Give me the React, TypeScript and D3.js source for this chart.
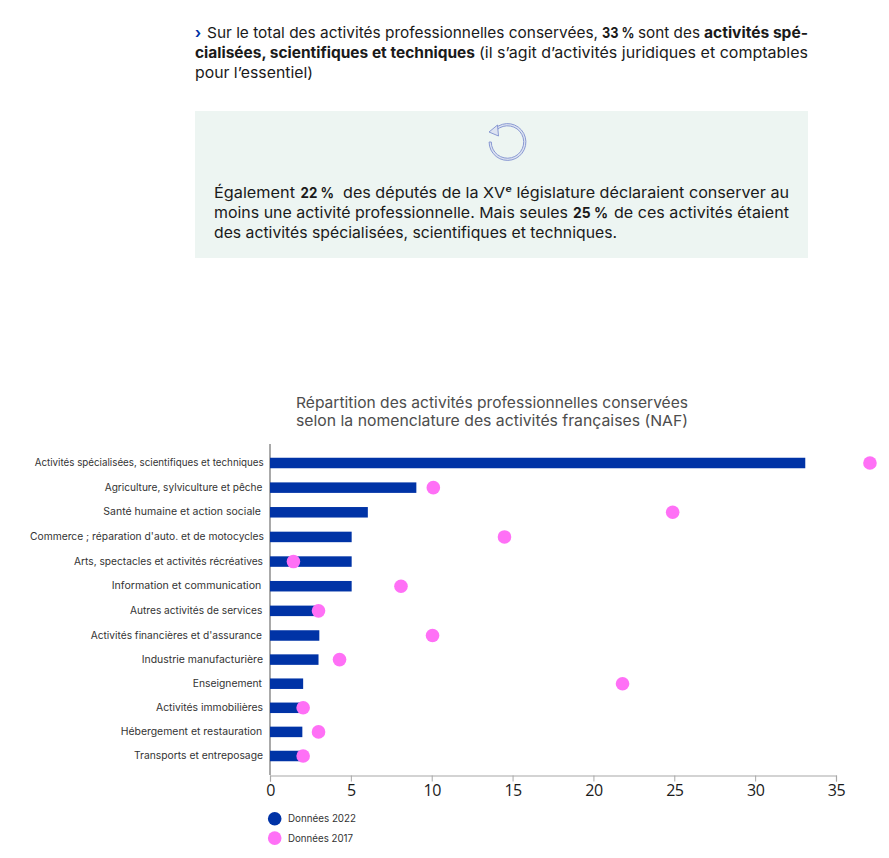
import * as d3 from "d3";
import {useEffect, useRef} from "react";

const categories = [
    "Activités spécialisées, scientifiques et techniques",
    "Agriculture, sylviculture et pêche",
    "Santé humaine et action sociale",
    "Commerce ; réparation d'auto. et de motocycles",
    "Arts, spectacles et activités récréatives",
    "Information et communication",
    "Autres activités de services",
    "Activités financières et d'assurance",
    "Industrie manufacturière",
    "Enseignement",
    "Activités immobilières",
    "Hébergement et restauration",
    "Transports et entreposage",
];
const values2022 = [33.1, 9.05, 6.05, 5.05, 5.05, 5.05, 3, 3.05, 3, 2.05, 2, 2, 2];
const values2017 = [37.1, 10.1, 24.9, 14.5, 1.45, 8.1, 3, 10.05, 4.3, 21.8, 2.05, 3, 2.05];
const xTicks = [0, 5, 10, 15, 20, 25, 30, 35];
const legendLabels = ["Données 2022", "Données 2017"];
const titleLines = [
    "Répartition des activités professionnelles conservées",
    "selon la nomenclature des activités françaises (NAF)",
];

// bords gauche/droit des libellés, la police d'origine n'est pas dispo
const labelLeft = [34.7, 104.7, 103.3, 30, 74, 111.7, 130, 90.7, 141.7, 192.7, 156, 120.7, 134];
const labelRight = [263.7, 262.5, 261, 264, 263, 261.3, 262.3, 262, 263, 262, 263, 262.3, 263];
const legendRight = [356, 353];

// [texte, gras, x début, x fin]
type Seg = [string, boolean, number, number];
const introLines: Seg[][] = [
    [["›", true, 195, 201], ["Sur le total des activités professionnelles conservées,", false, 207, 598], ["33 %", true, 602, 634.5], ["sont des", false, 638, 700], ["activités spé-", true, 704, 808]],
    [["cialisées, scientifiques et techniques", true, 195, 475], ["(il s’agit d’activités juridiques et comptables", false, 479, 808]],
    [["pour l’essentiel)", false, 195, 313]],
];
const boxLines: Seg[][] = [
    [["Également", false, 214, 295], ["22 %", true, 300.5, 334], ["des députés de la XVᵉ législature déclaraient conserver au", false, 343, 789]],
    [["moins une activité professionnelle. Mais seules", false, 214, 568], ["25 %", true, 573, 608], ["de ces activités étaient", false, 614, 789]],
    [["des activités spécialisées, scientifiques et techniques.", false, 214, 617]],
];

const FONT = "Inter, 'Noto Sans', sans-serif";
const BLUE = "#0033a6";
const PINK = "#ff70f6";
const BOX = "#edf5f2";

const App = () => {
    const svgRef = useRef<SVGSVGElement>(null);

    useEffect(() => {
        if (!svgRef.current) return;
        const svg = d3.select(svgRef.current);
        svg.selectAll("*").remove();

        const drawLines = (lines: Seg[][], y0: number, lh: number, size: number) => {
            lines.forEach((line, i) => {
                line.forEach(([s, bold, x0, x1]) => {
                    svg.append("text")
                        .attr("x", x0)
                        .attr("y", y0 + i * lh)
                        .attr("textLength", x1 - x0)
                        .attr("lengthAdjust", "spacingAndGlyphs")
                        .attr("font-family", FONT)
                        .attr("font-size", size)
                        .attr("font-weight", bold ? 700 : 400)
                        .attr("fill", s === "›" ? BLUE : "#1a1a1a")
                        .text(s);
                });
            });
        };

        drawLines(introLines, 38, 20, 15);

        // encart
        svg.append("rect").attr("x", 195).attr("y", 111).attr("width", 613).attr("height", 147).attr("fill", BOX);
        const icon = svg.append("g").attr("transform", "translate(507.5,142)").attr("fill", "#dde3f1").attr("stroke", "#7f90cf").attr("stroke-width", 0.9);
        icon.append("path").attr("d", d3.arc()({innerRadius: 16.2, outerRadius: 18.4, startAngle: -0.73, endAngle: Math.PI * 1.5} as any));
        icon.append("path").attr("d", d3.line()([[-18.5, -10], [-10, -17], [-9, -6]])! + "Z");
        drawLines(boxLines, 198, 20, 15);

        // titre
        titleLines.forEach((s, i) => {
            svg.append("text")
                .attr("x", 296)
                .attr("y", 408 + i * 18)
                .attr("textLength", 392)
                .attr("lengthAdjust", "spacingAndGlyphs")
                .attr("font-family", FONT)
                .attr("font-size", 15)
                .attr("fill", "#4d4d4d")
                .text(s);
        });

        const xScale = d3.scaleLinear().domain([0, 35]).range([270, 836]);
        // les lignes ne sont pas tout à fait régulières dans l'original
        const yScale = d3.scaleLinear().domain([0, 7, 12]).range([463, 635.5, 756]);
        const barH = 10.5;

        const axis = svg.append("g")
            .attr("transform", "translate(0,775.5)")
            .call(d3.axisBottom(xScale).tickValues(xTicks).tickSize(6).tickSizeOuter(6).tickFormat(d3.format("d") as any));
        axis.select(".domain").attr("stroke", "#a8a8a8").attr("stroke-width", 1.2);
        axis.selectAll(".tick line").attr("stroke", "#a8a8a8");
        axis.selectAll(".tick text")
            .attr("font-family", "'Open Sans', sans-serif")
            .attr("font-size", 16)
            .attr("letter-spacing", "-0.5")
            .attr("fill", "#1a1a1a")
            .attr("y", 9);

        svg.append("line")
            .attr("x1", 270).attr("x2", 270).attr("y1", 444).attr("y2", 775)
            .attr("stroke", "#555").attr("stroke-width", 1);

        svg.selectAll(".label")
            .data(categories)
            .enter()
            .append("text")
            .attr("class", "label")
            .attr("x", (d, i) => labelLeft[i])
            .attr("y", (d, i) => yScale(i) + 3)
            .attr("textLength", (d, i) => labelRight[i] - labelLeft[i])
            .attr("lengthAdjust", "spacingAndGlyphs")
            .attr("font-family", FONT)
            .attr("font-size", 10.2)
            .attr("fill", "#333")
            .text(d => d);

        svg.selectAll(".bar")
            .data(values2022)
            .enter()
            .append("rect")
            .attr("class", "bar")
            .attr("x", xScale(0))
            .attr("y", (d, i) => yScale(i) - barH / 2)
            .attr("width", d => xScale(d) - xScale(0))
            .attr("height", barH)
            .attr("fill", BLUE);

        svg.selectAll(".dot")
            .data(values2017)
            .enter()
            .append("circle")
            .attr("class", "dot")
            .attr("cx", d => xScale(d))
            .attr("cy", (d, i) => yScale(i))
            .attr("r", 6.8)
            .attr("fill", PINK);

        // légende
        legendLabels.forEach((s, i) => {
            const y = 818.7 + i * 19.4;
            svg.append("circle").attr("cx", 274.7).attr("cy", y).attr("r", 6.8).attr("fill", i === 0 ? BLUE : PINK);
            svg.append("text")
                .attr("x", 288).attr("y", y + 3.5)
                .attr("textLength", legendRight[i] - 288)
                .attr("lengthAdjust", "spacingAndGlyphs")
                .attr("font-family", FONT).attr("font-size", 10.2).attr("fill", "#333")
                .text(s);
        });
    }, []);

    return <svg ref={svgRef} width={889} height={858} style={{position: "absolute", left: 0, top: 0, background: "#fff"}}/>;
};

export default App;
